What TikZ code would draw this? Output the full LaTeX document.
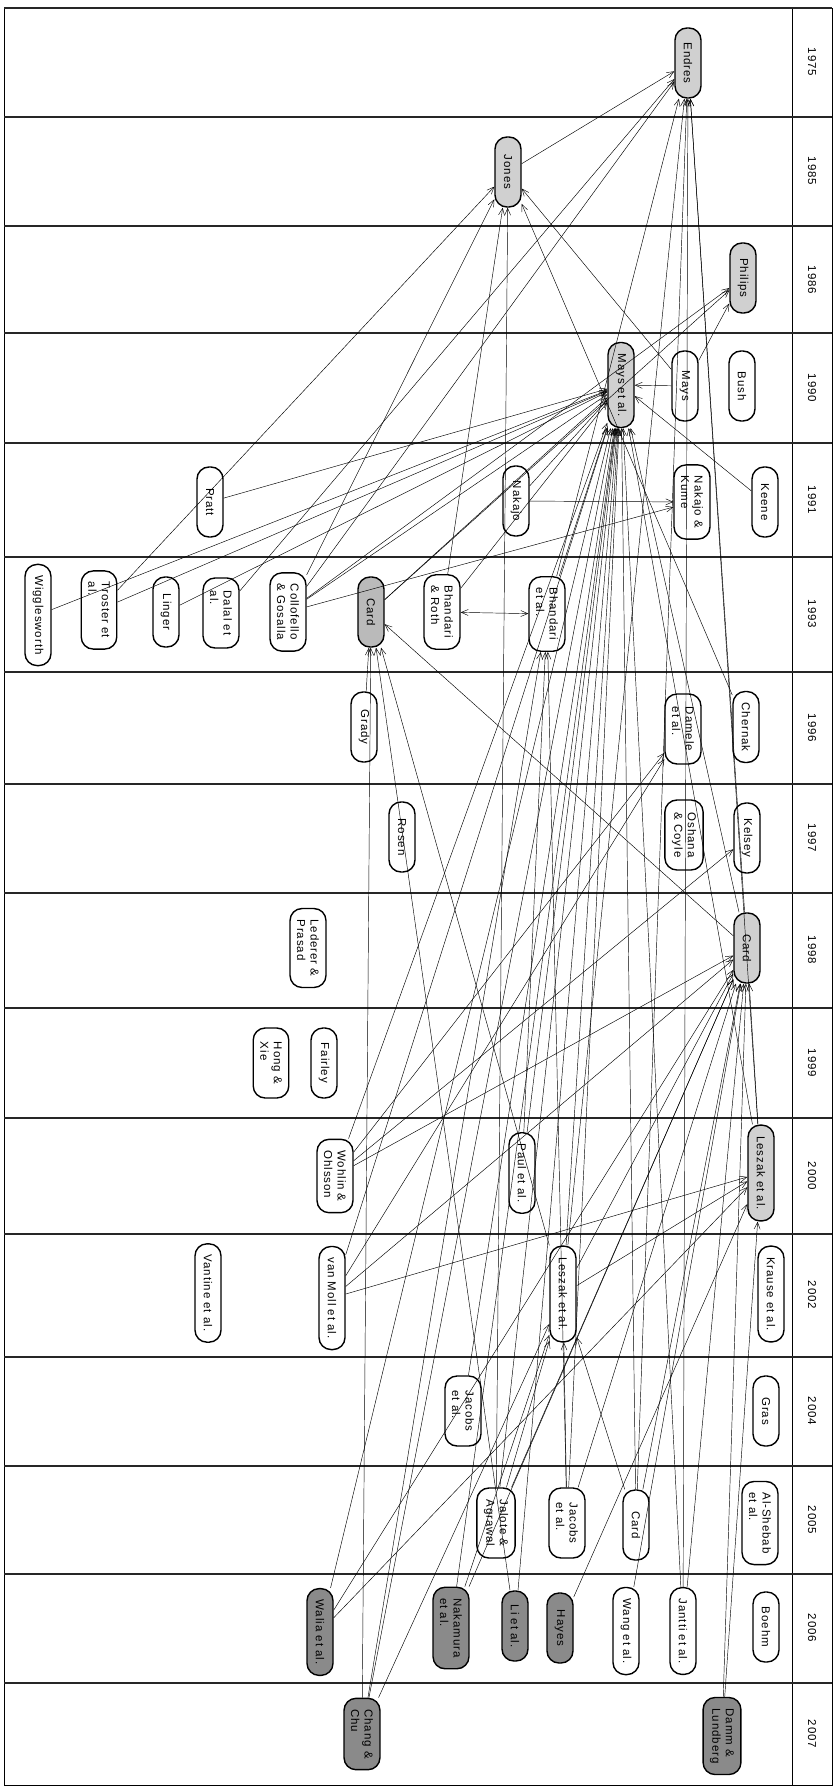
\documentclass[tikz,border=0pt]{standalone}
\usepackage{fontspec}
\newfontfamily\paperfont[LetterSpace=8]{Liberation Sans}
\usetikzlibrary{arrows.meta}
\definecolor{PaperLight}{HTML}{D0D0D0}
\definecolor{PaperMid}{HTML}{BABABA}
\definecolor{PaperDark}{HTML}{8A8A8A}
\definecolor{Rule}{HTML}{262626}

\begin{document}
\begin{tikzpicture}[x=1pt,y=-1pt,
  every node/.style={font=\paperfont\fontsize{11.5}{13.5}\selectfont},
  paper/.style={draw,line width=1.4pt,rounded corners=12pt,fill=white,rotate=-90,minimum width=70pt,minimum height=26pt,inner xsep=11pt,inner ysep=7pt,align=left},
  cited/.style={paper,fill=PaperLight},
  seed/.style={paper,fill=PaperMid},
  recent/.style={paper,fill=PaperDark},
  yearlabel/.style={rotate=-90},
  cite/.style={-{Straight Barb[length=7pt,width=6pt]},line width=0.45pt},
  twoway/.style={cite,{Straight Barb[length=7pt,width=6pt]}-{Straight Barb[length=7pt,width=6pt]}},
  band/.style={line width=1.8pt,color=Rule}
]
\useasboundingbox (0,0) rectangle (835,1787);
% frame and year bands
\draw[line width=0.8pt] (4,8) rectangle (832,1785);
\draw[line width=0.8pt] (792,8) -- (792,1785);
\draw[band] (4,8) -- (832,8) (4,117) -- (832,117) (4,226) -- (832,226) (4,333) -- (832,333)
  (4,443) -- (832,443) (4,557) -- (832,557) (4,672) -- (832,672) (4,784) -- (832,784)
  (4,893) -- (832,893) (4,1008) -- (832,1008) (4,1118) -- (832,1118) (4,1234) -- (832,1234)
  (4,1357) -- (832,1357) (4,1466) -- (832,1466) (4,1574) -- (832,1574) (4,1683) -- (832,1683);
\node[yearlabel] (y1975) at (812,62) {1975};
\node[yearlabel] (y1985) at (812,171) {1985};
\node[yearlabel] (y1986) at (812,280) {1986};
\node[yearlabel] (y1990) at (812,388) {1990};
\node[yearlabel] (y1991) at (812,500) {1991};
\node[yearlabel] (y1993) at (812,614) {1993};
\node[yearlabel] (y1996) at (812,728) {1996};
\node[yearlabel] (y1997) at (812,838) {1997};
\node[yearlabel] (y1998) at (812,950) {1998};
\node[yearlabel] (y1999) at (812,1063) {1999};
\node[yearlabel] (y2000) at (812,1176) {2000};
\node[yearlabel] (y2002) at (812,1295) {2002};
\node[yearlabel] (y2004) at (812,1411) {2004};
\node[yearlabel] (y2005) at (812,1520) {2005};
\node[yearlabel] (y2006) at (812,1628) {2006};
\node[yearlabel] (y2007) at (812,1734) {2007};
% papers
\node[cited] (endres) at (688,63) {Endres};
\node[cited] (jones) at (508,172) {Jones};
\node[cited] (philips) at (743,278) {Philips};
\node[cited] (maysetal) at (621,385) {Mays et al.};
\node[paper] (mays) at (685,386) {Mays};
\node[paper] (bush) at (742,386) {Bush};
\node[paper] (pratt) at (210,502) {Pratt};
\node[paper] (nakajo) at (516,501) {Nakajo};
\node[paper] (nakajokume) at (692,502) {Nakajo \&\\Kume};
\node[paper] (keene) at (765,502) {Keene};
\node[paper] (wigglesworth) at (38,615) {Wigglesworth};
\node[paper] (troster) at (99,610) {Troster et\\al.};
\node[paper] (linger) at (166,612) {Linger};
\node[paper] (dalal) at (221,613) {Dalal et\\al.};
\node[paper] (collofello) at (288,612) {Collofello\\\& Gosalla};
\node[seed] (card93) at (371,612) {Card};
\node[paper] (bhandariroth) at (442,612) {Bhandari\\\& Roth};
\node[paper] (bhandarietal) at (547,614) {Bhandari\\et al.};
\node[paper] (grady) at (364,727) {Grady};
\node[paper] (damele) at (683,729) {Damele\\et al.};
\node[paper] (chernak) at (746,727) {Chernak};
\node[paper] (rosen) at (402,837) {Rosen};
\node[paper] (oshana) at (684,835) {Oshana\\\& Coyle};
\node[paper] (kelsey) at (747,838) {Kelsey};
\node[paper] (lederer) at (308,948) {Lederer \&\\Prasad};
\node[cited] (card98) at (747,948) {Card};
\node[paper] (hongxie) at (271,1063) {Hong \&\\Xie};
\node[paper] (fairley) at (324,1063) {Fairley};
\node[paper] (wohlin) at (335,1176) {Wohlin \&\\Ohlsson};
\node[paper] (paul) at (522,1173) {Paul et al.};
\node[cited] (leszak00) at (761,1173) {Leszak et al.};
\node[paper] (vantine) at (208,1293) {Vantine et al.};
\node[paper] (vanmoll) at (332,1298) {van Moll et al.};
\node[paper] (leszak02) at (563,1294) {Leszak et al.};
\node[paper] (krause) at (771,1294) {Krause et al.};
\node[paper] (jacobs04) at (463,1411) {Jacobs\\et al.};
\node[paper] (gras) at (766,1411) {Gras};
\node[paper] (jalote) at (496,1523) {Jalote \&\\Agrawal};
\node[paper] (jacobs05) at (567,1523) {Jacobs\\et al.};
\node[paper] (card05) at (636,1525) {Card};
\node[paper] (alshebab) at (760,1523) {Al-Shebab\\et al.};
\node[recent] (walia) at (320,1632) {Walia et al.};
\node[recent] (nakamura) at (451,1628) {Nakamura\\et al.};
\node[recent] (li) at (515,1626) {Li et al.};
\node[recent] (hayes) at (560,1628) {Hayes};
\node[paper] (wang) at (626,1631) {Wang et al.};
\node[paper] (jantti) at (683,1631) {Jantti et al.};
\node[paper] (boehm) at (766,1627) {Boehm};
\node[recent] (chang) at (362,1734) {Chang \&\\Chu};
\node[recent] (damm) at (722,1736) {Damm \&\\Lundberg};
% citations
\draw[cite] (jones) -- (endres);
\draw[cite] (collofello) -- (endres);
\draw[cite] (dalal) -- (endres);
\draw[cite] (bhandarietal) -- (endres);
\draw[cite] (leszak02) -- (endres);
\draw[cite] (card05) -- (endres);
\draw[cite] (card98) -- (endres);
\draw[cite] (leszak00) -- (endres);
\draw[cite] (jantti) -- (endres);
\draw[cite] (mays) -- (jones);
\draw[cite] (mays) -- (maysetal);
\draw[cite] (mays) -- (philips);
\draw[cite] (collofello) -- (jones);
\draw[cite] (bhandariroth) -- (jones);
\draw[cite] (jalote) -- (jones);
\draw[cite] (chernak) -- (jones);
\draw[cite] (troster) -- (jones);
\draw[cite] (collofello) -- (philips);
\draw[cite] (card93) -- (philips);
\draw[cite] (pratt) -- (maysetal);
\draw[cite] (wigglesworth) -- (maysetal);
\draw[cite] (troster) -- (maysetal);
\draw[cite] (linger) -- (maysetal);
\draw[cite] (collofello) -- (maysetal);
\draw[cite] (card93) -- (maysetal);
\draw[cite] (bhandariroth) -- (maysetal);
\draw[cite] (bhandarietal) -- (maysetal);
\draw[cite] (keene) -- (maysetal);
\draw[cite] (nakajo) -- (maysetal);
\draw[cite] (paul) -- (maysetal);
\draw[cite] (wohlin) -- (maysetal);
\draw[cite] (vanmoll) -- (maysetal);
\draw[cite] (leszak02) -- (maysetal);
\draw[cite] (jacobs04) -- (maysetal);
\draw[cite] (jalote) -- (maysetal);
\draw[cite] (jacobs05) -- (maysetal);
\draw[cite] (card05) -- (maysetal);
\draw[cite] (nakamura) -- (maysetal);
\draw[cite] (li) -- (maysetal);
\draw[cite] (walia) -- (maysetal);
\draw[cite] (chang) -- (maysetal);
\draw[cite] (jantti) -- (maysetal);
\draw[cite] (card98) -- (maysetal);
\draw[cite] (leszak00) -- (maysetal);
\draw[cite] (nakajo) -- (nakajokume);
\draw[cite] (collofello) -- (nakajokume);
\draw[twoway] (bhandariroth) -- (bhandarietal);
\draw[cite] (grady) -- (card93);
\draw[cite] (chang) -- (card93);
\draw[cite] (leszak02) -- (card93);
\draw[cite] (card98) -- (card93);
\draw[cite] (li) -- (card93);
\draw[cite] (vanmoll) -- (damele);
\draw[cite] (wohlin) -- (damele);
\draw[cite] (wohlin) -- (kelsey);
\draw[cite] (vanmoll) -- (leszak00);
\draw[cite] (wohlin) -- (card98);
\draw[cite] (vanmoll) -- (card98);
\draw[cite] (leszak00) -- (card98);
\draw[cite] (leszak02) -- (card98);
\draw[cite] (jalote) -- (card98);
\draw[cite] (jacobs05) -- (card98);
\draw[cite] (card05) -- (card98);
\draw[cite] (wang) -- (card98);
\draw[cite] (jantti) -- (card98);
\draw[cite] (damm) -- (card98);
\draw[cite] (nakamura) -- (card98);
\draw[cite] (walia) -- (card98);
\draw[cite] (walia) -- (leszak00);
\draw[cite] (hayes) -- (leszak00);
\draw[cite] (damm) -- (leszak00);
\draw[cite] (leszak02) -- (leszak00);
\draw[cite] (chang) -- (leszak02);
\draw[cite] (jalote) -- (leszak02);
\draw[cite] (jacobs05) -- (leszak02);
\draw[cite] (card05) -- (leszak02);
\draw[cite] (nakamura) -- (leszak02);
\draw[cite] (paul) -- (bhandarietal);
\draw[cite] (chang) -- (bhandarietal);
\draw[cite] (jacobs05) -- (bhandarietal);
\end{tikzpicture}
\end{document}
